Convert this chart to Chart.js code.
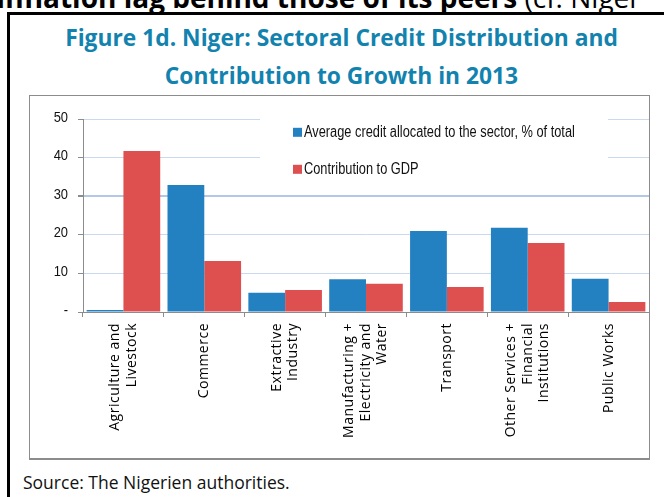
<!DOCTYPE html>
<html>
<head>
<meta charset="utf-8">
<script src="https://cdn.jsdelivr.net/npm/chart.js@4/dist/chart.umd.min.js"></script>
<style>
  html, body { margin: 0; padding: 0; background: #fff; }
  #page { position: relative; width: 664px; height: 497px; overflow: hidden; background: #fff; font-family: "Open Sans", sans-serif; }
  #lead { position: absolute; left: -4px; top: -17px; white-space: nowrap; font-size: 28px; line-height: 28px; color: #000; }
  #lead b { font-weight: 700; }
  #frameTop { position: absolute; left: 7px; top: 12px; width: 700px; height: 3px; background: #000; }
  #frameLeft { position: absolute; left: 7px; top: 12px; width: 3px; height: 500px; background: #000; }
  #title { position: absolute; left: 0; width: 683px; top: 19px; text-align: center; color: #1282ae; font-weight: 700; font-size: 22.8px; line-height: 38px; }
  #chartWrap { position: absolute; left: 29px; top: 95px; width: 621px; height: 364px; }
  #boxBorder { position: absolute; left: 29px; top: 95px; width: 619px; height: 362px; border: 1px solid #8c8c8c; border-bottom: 2px solid #8c8c8c; pointer-events: none; }
  #source { position: absolute; left: 23px; top: 470px; font-size: 17.5px; line-height: 24px; color: #111; }
</style>
</head>
<body>
<div id="page">
  <div id="lead"><b>Inflation lag behind those of its peers</b> (cf. Niger</div>
  <div id="frameTop"></div>
  <div id="frameLeft"></div>
  <div id="title">Figure 1d. Niger: Sectoral Credit Distribution and<br>Contribution to Growth in 2013</div>
  <div id="chartWrap"><canvas id="chart" width="621" height="364"></canvas></div>
  <div id="boxBorder"></div>
  <div id="source">Source: The Nigerien authorities.</div>
</div>
<script>
// Sectors, split into the lines shown under each group of bars
const sectors = [
  ["Agriculture and", "Livestock"],
  ["Commerce"],
  ["Extractive", "Industry"],
  ["Manufacturing +", "Electricity and", "Water"],
  ["Transport"],
  ["Other Services +", "Financial", "Institutions"],
  ["Public Works"]
];

// Average credit allocated to each sector, % of total
const creditShare = [0.5, 32.9, 5.0, 8.5, 21.0, 21.8, 8.6];

// Contribution of each sector to GDP, %
const gdpContribution = [41.7, 13.2, 5.7, 7.3, 6.5, 17.9, 2.6];

const seriesNames = ["Average credit allocated to the sector, % of total", "Contribution to GDP"];

// Value axis
const yMin = 0;
const yMax = 50;
const yStep = 10;

const AXIS_GREY = '#8c8c8c';
const SANS = "'Liberation Sans', Arial, sans-serif";

// Condensed face: a regular sans squeezed horizontally
function narrowText(ctx, text, x, y, align, squeeze) {
  ctx.save();
  ctx.translate(x, y);
  ctx.scale(squeeze, 1);
  ctx.textAlign = align;
  ctx.fillText(text, 0, 0);
  ctx.restore();
}

// Category labels: rotated, each multi-line block centred on its group
const sectorLabels = {
  id: 'sectorLabels',
  afterDraw(chart, args, o) {
    const scale = chart.scales.x;
    const ctx = chart.ctx;
    ctx.save();
    ctx.font = o.font;
    ctx.fillStyle = o.color;
    if ('letterSpacing' in ctx) ctx.letterSpacing = o.letterSpacing;
    ctx.textAlign = 'right';
    ctx.textBaseline = 'middle';
    chart.data.labels.forEach((lines, i) => {
      const x = scale.getPixelForTick(i);
      const y = scale.top + o.offset;
      ctx.save();
      ctx.translate(x, y);
      ctx.rotate(-Math.PI / 2);
      lines.forEach((line, j) => {
        ctx.fillText(line, 0, (j - (lines.length - 1) / 2) * o.lineHeight);
      });
      ctx.restore();
    });
    ctx.restore();
  }
};

// Value labels on the left axis, zero shown as a dash
const valueLabels = {
  id: 'valueLabels',
  afterDraw(chart, args, o) {
    const scale = chart.scales.y;
    const ctx = chart.ctx;
    ctx.save();
    ctx.font = o.size + 'px ' + SANS;
    ctx.fillStyle = o.color;
    ctx.textBaseline = 'middle';
    scale.ticks.forEach((t) => {
      const text = t.value === 0 ? '-' : String(t.value);
      narrowText(ctx, text, scale.right - o.gap, scale.getPixelForValue(t.value) + o.dy, 'right', o.squeeze);
    });
    ctx.restore();
  }
};

// Legend drawn inside the plot on a white panel
const panelLegend = {
  id: 'panelLegend',
  beforeDatasetsDraw(chart, args, o) {
    const ctx = chart.ctx;
    ctx.save();
    ctx.fillStyle = '#fff';
    ctx.fillRect(o.x, o.y, o.w, o.h);
    ctx.font = o.size + 'px ' + SANS;
    ctx.textBaseline = 'middle';
    chart.data.datasets.forEach((ds, i) => {
      const cy = o.y + o.firstRow + i * o.rowGap;
      ctx.fillStyle = ds.backgroundColor;
      ctx.fillRect(o.x + o.pad, cy - o.swatch / 2, o.swatch, o.swatch);
      ctx.fillStyle = o.color;
      narrowText(ctx, ds.label, o.x + o.pad + o.swatch + o.gap, cy, 'left', o.squeeze);
    });
    ctx.restore();
  }
};

new Chart(document.getElementById('chart'), {
  type: 'bar',
  data: {
    labels: sectors,
    datasets: [
      { label: seriesNames[0], data: creditShare, backgroundColor: '#2481c1', borderWidth: 0 },
      { label: seriesNames[1], data: gdpContribution, backgroundColor: '#de4f4f', borderWidth: 0 }
    ]
  },
  options: {
    responsive: false,
    animation: false,
    events: [],
    categoryPercentage: 0.91,
    barPercentage: 1.0,
    layout: { padding: { top: 24, left: 0, right: 1, bottom: 0 } },
    scales: {
      x: {
        offset: true,
        grid: { offset: true, drawOnChartArea: false, drawTicks: true, tickLength: 5, tickColor: AXIS_GREY },
        border: { display: true, color: AXIS_GREY, width: 1 },
        ticks: { display: false },
        afterFit(scale) { scale.height = 147; }
      },
      y: {
        min: yMin,
        max: yMax,
        grid: {
          color: (c) => c.tick && c.tick.value === 0 ? AXIS_GREY : (c.tick && c.tick.value === 30 ? '#b3c8e6' : '#c9d9ef'),
          lineWidth: (c) => c.tick && c.tick.value === 30 ? 2 : 1,
          drawTicks: true,
          tickLength: 5,
          tickColor: AXIS_GREY
        },
        border: { display: true, color: AXIS_GREY, width: 1 },
        ticks: { stepSize: yStep, display: false },
        afterFit(scale) { scale.width = 54; }
      }
    },
    plugins: {
      legend: { display: false },
      tooltip: { enabled: false },
      sectorLabels: { font: "500 14px 'Open Sans', sans-serif", color: '#000', letterSpacing: '0.5px', offset: 11, lineHeight: 16.5 },
      valueLabels: { color: '#111', gap: 15, dy: -1.5, size: 15, squeeze: 0.86 },
      panelLegend: { x: 231, y: 10, w: 348, h: 85, pad: 33, swatch: 9, gap: 2, firstRow: 27.3, rowGap: 37, color: '#111', size: 16, squeeze: 0.80 }
    }
  },
  plugins: [sectorLabels, valueLabels, panelLegend]
});
</script>
</body>
</html>
